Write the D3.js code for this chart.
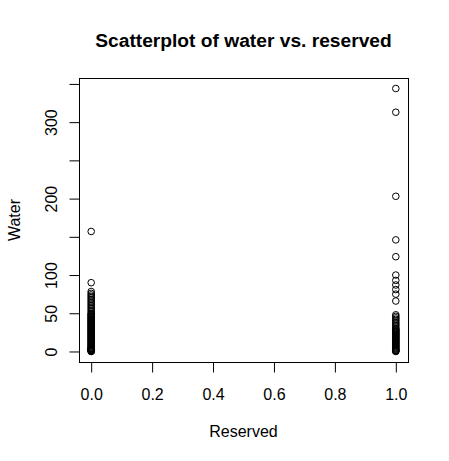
<!DOCTYPE html>
<html>
<head>
<meta charset="utf-8">
<script src="https://cdn.jsdelivr.net/npm/d3@7"></script>
<style>
  body { margin: 0; background: #fff; }
  svg text { font-family: "Liberation Sans", Arial, Helvetica, sans-serif; fill: #000; }
</style>
</head>
<body>
<div id="chart"></div>
<script>
'use strict';

// water use values, split by the "reserved" flag (0 / 1)
var waterReserved0 = [157, 90, 78.5, 76, 74, 72, 70, 68, 66, 64, 62, 60, 58, 56, 54, 52, 50,
  49, 48, 47, 46, 45, 44, 43, 42, 41, 40, 39, 38, 37, 36, 35, 34, 33, 32, 31, 30, 29, 28,
  27, 26, 25, 24, 23, 22, 21, 20, 19, 18, 17, 16, 15, 14, 13, 12, 11, 10, 9, 8, 7, 6, 5,
  4.5, 4, 3.5, 3, 2.5, 2, 1.5, 1, 0.5, 0.2, 0];
var waterReserved1 = [344, 313, 203, 146, 124, 100, 93, 87, 81, 75, 66, 48, 46, 44, 42, 40,
  38, 36, 34, 32, 30, 29, 28, 27, 26, 25, 24, 23, 22, 21, 20, 19, 18, 17, 16, 15, 14, 13,
  12, 11, 10, 9, 8, 7, 6, 5, 4, 3, 2, 1.5, 1, 0.5, 0];

var xTicks = [0, 0.2, 0.4, 0.6, 0.8, 1.0];
var yTicks = [0, 50, 100, 150, 200, 250, 300, 350];
var yTickLabels = ["0", "50", "100", "", "200", "", "300", ""];

var title = "Scatterplot of water vs. reserved";
var xLabel = "Reserved";
var yLabel = "Water";

var width = 449, height = 461;
var box = {left: 79, right: 408, top: 78, bottom: 362};

var points = waterReserved0.map(function (d) { return {x: 0, y: d}; })
  .concat(waterReserved1.map(function (d) { return {x: 1, y: d}; }));

// R style axis range: data extent padded by 4% each side
function padded(ext) {
  var p = (ext[1] - ext[0]) * 0.04;
  return [ext[0] - p, ext[1] + p];
}

var x = d3.scaleLinear()
  .domain(padded(d3.extent(points, function (d) { return d.x; })))
  .range([box.left, box.right]);
var y = d3.scaleLinear()
  .domain(padded(d3.extent(points, function (d) { return d.y; })))
  .range([box.bottom, box.top]);

var svg = d3.select("#chart").append("svg")
  .attr("width", width)
  .attr("height", height);

// plot frame
svg.append("rect")
  .attr("x", box.left + 0.5)
  .attr("y", box.top + 0.5)
  .attr("width", box.right - box.left)
  .attr("height", box.bottom - box.top)
  .attr("fill", "none")
  .attr("stroke", "#000")
  .attr("stroke-width", 1);

var xAxis = svg.append("g")
  .attr("transform", "translate(0," + (box.bottom + 0.5) + ")")
  .call(d3.axisBottom(x).tickValues(xTicks).tickSize(10).tickFormat(d3.format(".1f")));
xAxis.select(".domain")
  .attr("d", "M" + x(xTicks[0]) + ",0H" + x(xTicks[xTicks.length - 1]));
xAxis.selectAll("text")
  .attr("y", 37).attr("dy", null)
  .style("font-size", "16px");

var yAxis = svg.append("g")
  .attr("transform", "translate(" + (box.left + 0.5) + ",0)")
  .call(d3.axisLeft(y).tickValues(yTicks).tickSize(10)
    .tickFormat(function (d, i) { return yTickLabels[i]; }));
yAxis.select(".domain")
  .attr("d", "M0," + y(yTicks[0]) + "V" + y(yTicks[yTicks.length - 1]));
yAxis.selectAll("text")
  .attr("x", null).attr("dy", null)
  .attr("transform", "translate(-23,0) rotate(-90)")
  .attr("text-anchor", "middle")
  .attr("y", 0)
  .style("font-size", "16px");

svg.selectAll(".tick line, .domain").attr("stroke", "#000");

svg.append("g")
  .selectAll("circle")
  .data(points)
  .join("circle")
  .attr("cx", function (d) { return x(d.x); })
  .attr("cy", function (d) { return y(d.y); })
  .attr("r", 3.3)
  .attr("fill", "none")
  .attr("stroke", "#000")
  .attr("stroke-width", 1);

svg.append("text")
  .attr("x", (box.left + box.right) / 2)
  .attr("y", 47)
  .attr("text-anchor", "middle")
  .style("font-size", "19.2px")
  .style("font-weight", "bold")
  .text(title);

svg.append("text")
  .attr("x", (box.left + box.right) / 2)
  .attr("y", 437)
  .attr("text-anchor", "middle")
  .style("font-size", "16px")
  .text(xLabel);

svg.append("text")
  .attr("transform", "translate(20," + (box.top + box.bottom) / 2 + ") rotate(-90)")
  .attr("text-anchor", "middle")
  .style("font-size", "16px")
  .text(yLabel);
</script>
</body>
</html>
